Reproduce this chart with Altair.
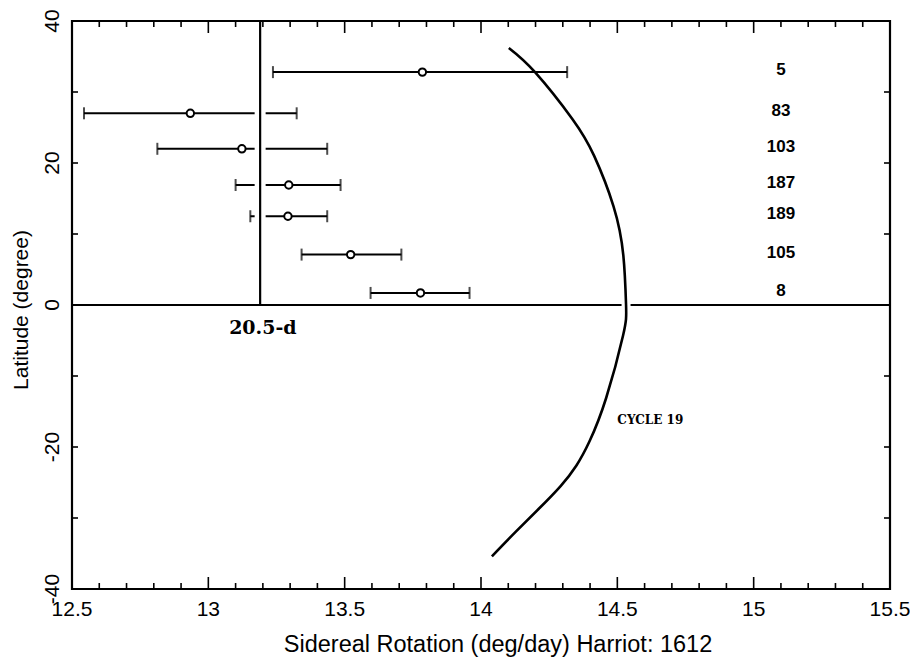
import altair as alt
import pandas as pd

# ---------------- data ----------------
region_ids = ["5", "83", "103", "187", "189", "105", "8"]
region_lat = [32.8, 27.0, 22.0, 16.9, 12.5, 7.1, 1.7]
rot_center = [13.785, 12.934, 13.123, 13.295, 13.292, 13.522, 13.778]
rot_low = [13.237, 12.544, 12.813, 13.100, 13.154, 13.342, 13.595]
rot_high = [14.316, 13.324, 13.436, 13.485, 13.436, 13.708, 13.958]

ref_rot = [13.19]          # 20.5-day reference rotation line
ref_lat_from = [0]
ref_lat_to = [40]

curve_lat = [36.2, 32.8, 26.2, 21.0, 13.9, 7.0, 0.0, -4.3, -13.1,
             -19.2, -22.6, -25.5, -28.7, -32.0, -35.4]
curve_rot = [14.102, 14.198, 14.335, 14.415, 14.486, 14.522, 14.532, 14.521,
             14.459, 14.398, 14.350, 14.292, 14.212, 14.126, 14.040]

x_labels = [12.5, 13.0, 13.5, 14.0, 14.5, 15.0, 15.5]
x_minor = [12.6, 12.7, 12.8, 12.9, 13.1, 13.2, 13.3, 13.4, 13.6, 13.7, 13.8,
           13.9, 14.1, 14.2, 14.3, 14.4, 14.6, 14.7, 14.8, 14.9, 15.1, 15.2,
           15.3, 15.4]
y_labels = [-40, -20, 0, 20, 40]
y_ticks = [-30, -20, -10, 10, 20, 30]

ref_text = "20.5-d"
cycle_text = "CYCLE 19"
x_title = "Sidereal Rotation (deg/day) Harriot: 1612"
y_title = "Latitude (degree)"

# ---------------- layout ----------------
W, H = 818, 568
AXFONT = "Liberation Sans"

xs = alt.Scale(domain=[12.5, 15.5], nice=False, zero=False)
ys = alt.Scale(domain=[-40, 40], nice=False, zero=False)

bars = pd.DataFrame({"id": region_ids, "lat": region_lat, "c": rot_center,
                     "lo": rot_low, "hi": rot_high})
ref = pd.DataFrame({"rot": ref_rot, "a": ref_lat_from, "b": ref_lat_to})
curve = pd.DataFrame({"rot": curve_rot, "lat": curve_lat,
                      "i": list(range(len(curve_lat)))})
xmaj = pd.DataFrame({"v": x_labels})
xmin = pd.DataFrame({"v": x_minor})
ytk = pd.DataFrame({"v": y_ticks})
ylab = pd.DataFrame({"v": y_labels})
one = pd.DataFrame({"k": [0]})


def X(field):
    return alt.X(field, scale=xs, axis=None)


def Y(field):
    return alt.Y(field, scale=ys, axis=None)


# error bars
bar_lines = alt.Chart(bars).mark_rule(color="black", strokeWidth=2).encode(
    x=X("lo:Q"), x2="hi:Q", y=Y("lat:Q"))
cap_lo = alt.Chart(bars).mark_tick(orient="vertical", size=12, thickness=2,
                                   color="black").encode(x=X("lo:Q"), y=Y("lat:Q"))
cap_hi = alt.Chart(bars).mark_tick(orient="vertical", size=12, thickness=2,
                                   color="black").encode(x=X("hi:Q"), y=Y("lat:Q"))

# white gap around the reference line, then the line itself
ref_halo = alt.Chart(ref).mark_rule(color="white", strokeWidth=11).encode(
    x=X("rot:Q"),
    y=alt.Y(datum=3.5, scale=ys, axis=None), y2=alt.Y2(datum=37.5))
ref_line = alt.Chart(ref).mark_rule(color="black", strokeWidth=2.2).encode(
    x=X("rot:Q"), y=Y("a:Q"), y2="b:Q")

points = alt.Chart(bars).mark_point(shape="circle", filled=True, fill="white",
                                    stroke="black", strokeWidth=2, size=55,
                                    opacity=1).encode(x=X("c:Q"), y=Y("lat:Q"))

zero_line = alt.Chart(one).mark_rule(color="black", strokeWidth=2.2).encode(
    x=alt.value(0), x2=alt.value(W), y=alt.Y(datum=0, scale=ys, axis=None))

curve_halo = alt.Chart(curve).transform_filter(
    "datum.lat > -5 && datum.lat < 8").mark_line(
    color="white", strokeWidth=9, interpolate="natural").encode(
    x=X("rot:Q"), y=Y("lat:Q"), order="i:Q")
curve_line = alt.Chart(curve).mark_line(color="black", strokeWidth=2.6,
                                        interpolate="natural").encode(
    x=X("rot:Q"), y=Y("lat:Q"), order="i:Q")

labels = alt.Chart(bars).mark_text(font="Liberation Sans", fontWeight="bold",
                                   fontSize=17, align="center", baseline="middle",
                                   dy=-2, color="black").encode(
    x=alt.X(datum=15.1, scale=xs, axis=None), y=Y("lat:Q"), text="id:N")

ref_label = alt.Chart(one).mark_text(font="DejaVu Serif", fontWeight="bold",
                                     fontSize=19, align="center",
                                     baseline="middle", color="black").encode(
    x=alt.X(datum=13.2, scale=xs, axis=None),
    y=alt.Y(datum=-3.2, scale=ys, axis=None), text=alt.value(ref_text))
cycle_label = alt.Chart(one).mark_text(font="DejaVu Serif", fontWeight="bold",
                                       fontSize=12, align="left",
                                       baseline="middle", color="black").encode(
    x=alt.X(datum=14.5, scale=xs, axis=None),
    y=alt.Y(datum=-16.2, scale=ys, axis=None), text=alt.value(cycle_text))

# inward ticks on all four sides
tb_major = alt.Chart(xmaj).mark_rule(color="black", strokeWidth=1.6).encode(
    x=X("v:Q"), y=alt.value(H), y2=alt.value(H - 12))
tb_minor = alt.Chart(xmin).mark_rule(color="black", strokeWidth=1.6).encode(
    x=X("v:Q"), y=alt.value(H), y2=alt.value(H - 6))
tt_major = alt.Chart(xmaj).mark_rule(color="black", strokeWidth=1.6).encode(
    x=X("v:Q"), y=alt.value(0), y2=alt.value(12))
tt_minor = alt.Chart(xmin).mark_rule(color="black", strokeWidth=1.6).encode(
    x=X("v:Q"), y=alt.value(0), y2=alt.value(6))
tl = alt.Chart(ytk).mark_rule(color="black", strokeWidth=1.6).encode(
    y=Y("v:Q"), x=alt.value(0), x2=alt.value(6))
tr = alt.Chart(ytk).mark_rule(color="black", strokeWidth=1.6).encode(
    y=Y("v:Q"), x=alt.value(W), x2=alt.value(W - 6))

# axis tick labels and titles (placed through the scales)
x_tick_labels = alt.Chart(xmaj).transform_calculate(
    lbl="'' + datum.v").mark_text(font=AXFONT, fontSize=21, align="center",
                                  baseline="middle", color="black").encode(
    x=X("v:Q"), y=alt.value(H + 21), text="lbl:N")
y_tick_labels = alt.Chart(ylab).transform_calculate(
    lbl="'' + datum.v").mark_text(font=AXFONT, fontSize=21, align="center",
                                  baseline="middle", angle=270,
                                  color="black").encode(
    y=Y("v:Q"), x=alt.value(-19), text="lbl:N")
x_title_mark = alt.Chart(one).mark_text(font=AXFONT, fontSize=23.5, align="center",
                                        baseline="middle", color="black").encode(
    x=alt.value(426), y=alt.value(H + 56), text=alt.value(x_title))
y_title_mark = alt.Chart(one).mark_text(font=AXFONT, fontSize=21, align="center",
                                        baseline="middle", angle=270,
                                        color="black").encode(
    x=alt.value(-50), y=alt.value(289), text=alt.value(y_title))

chart = alt.layer(
    bar_lines, cap_lo, cap_hi, zero_line, ref_halo, ref_line, points,
    curve_halo, curve_line, labels, ref_label, cycle_label,
    tb_major, tb_minor, tt_major, tt_minor, tl, tr,
    x_tick_labels, y_tick_labels, x_title_mark, y_title_mark,
).properties(
    width=W, height=H,
    autosize=alt.AutoSizeParams(type="none"),
    padding={"left": 64, "top": 13, "right": 20, "bottom": 70},
    background="white",
).configure_view(stroke="black", strokeWidth=2.2)

chart.save("out.html", embed_options={"renderer": "svg", "actions": False})
